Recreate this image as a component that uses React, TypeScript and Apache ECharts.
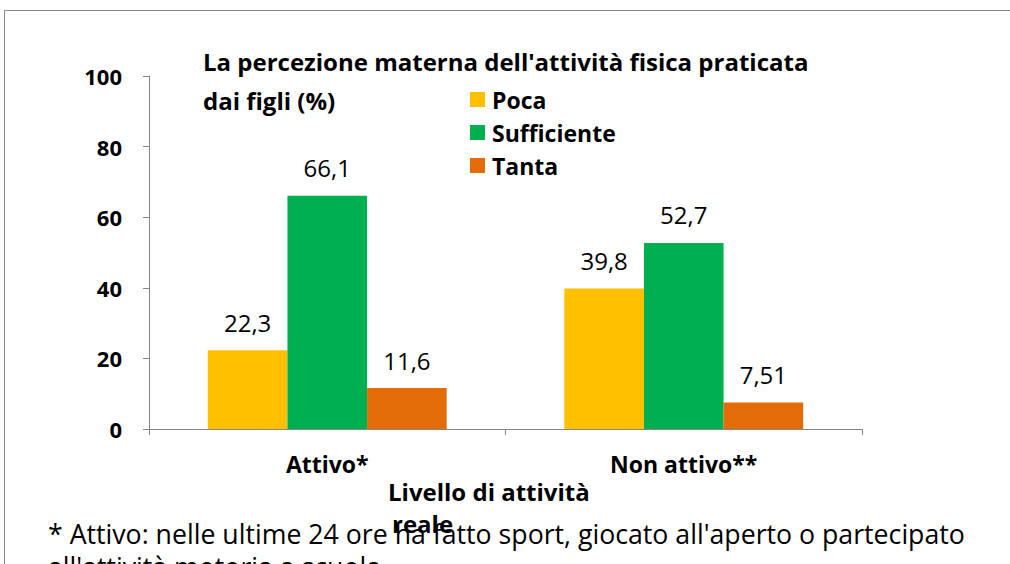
import React, { useEffect, useRef } from "react";
import * as echarts from "echarts";

const categories = ["Attivo*", "Non attivo**"];
const seriesNames = ["Poca", "Sufficiente", "Tanta"];
const poca = [22.3, 39.8];
const sufficiente = [66.1, 52.7];
const tanta = [11.6, 7.51];
const colors = ["#FFC000", "#00B050", "#E36C09"];
const yTicks = [0, 20, 40, 60, 80, 100];

const FONT = "'Open Sans'";

export default function App() {
  const ref = useRef<HTMLDivElement>(null);
  useEffect(() => {
    document.body.style.margin = "0";
    const chart = echarts.init(ref.current!, null, { renderer: "svg" });
    const values = [poca, sufficiente, tanta];
    chart.setOption({
      animation: false,
      backgroundColor: "#ffffff",
      textStyle: { fontFamily: FONT },
      grid: { left: 149, right: 148, top: 76, bottom: 135, containLabel: false },
      legend: {
        orient: "vertical",
        left: 465,
        top: 83,
        itemWidth: 15,
        itemHeight: 15,
        itemGap: 10,
        icon: "rect",
        data: seriesNames,
        textStyle: { fontFamily: FONT, fontWeight: "bold", fontSize: 23, color: "#000", padding: [0, 0, 0, 2] },
      },
      xAxis: {
        type: "category",
        data: categories,
        axisLine: { lineStyle: { color: "#868686", width: 1 } },
        axisTick: { show: true, length: 6, lineStyle: { color: "#868686" } },
        axisLabel: { fontFamily: FONT, fontWeight: "bold", fontSize: 23, color: "#000", margin: 23 },
      },
      yAxis: {
        type: "value",
        min: yTicks[0],
        max: yTicks[yTicks.length - 1],
        interval: 20,
        axisLine: { show: true, lineStyle: { color: "#868686", width: 1 } },
        axisTick: { show: true, length: 6, lineStyle: { color: "#868686" } },
        splitLine: { show: false },
        axisLabel: { fontFamily: FONT, fontWeight: "bold", fontSize: 22, color: "#000", margin: 27 },
      },
      series: seriesNames.map((name, i) => ({
        name,
        type: "bar",
        data: values[i],
        barGap: "0%",
        barCategoryGap: "33%",
        itemStyle: { color: colors[i] },
        label: {
          show: true,
          position: "top",
          distance: 16,
          fontFamily: FONT,
          fontSize: 24,
          color: "#000",
          formatter: (p: any) => String(p.value).replace(".", ","),
        },
      })),
      graphic: [
        {
          type: "rect",
          shape: { x: 4.5, y: 10.5, width: 1100, height: 700 },
          style: { fill: "none", stroke: "#868686", lineWidth: 1 },
          silent: true,
        },
        {
          type: "text",
          x: 203,
          y: 61,
          style: {
            text: "La percezione materna dell'attività fisica praticata",
            font: `bold 24px ${FONT}`,
            fill: "#000",
            verticalAlign: "middle",
          },
        },
        {
          type: "text",
          x: 203,
          y: 100,
          style: {
            text: "dai figli (%)",
            font: `bold 24px ${FONT}`,
            fill: "#000",
            verticalAlign: "middle",
          },
        },
        {
          type: "text",
          x: 388,
          y: 491,
          style: {
            text: "Livello di attività",
            font: `bold 24px ${FONT}`,
            fill: "#000",
            verticalAlign: "middle",
          },
        },
        {
          type: "text",
          x: 392,
          y: 523,
          style: {
            text: "reale",
            font: `bold 24px ${FONT}`,
            fill: "#000",
            verticalAlign: "middle",
          },
        },
        {
          type: "text",
          x: 48,
          y: 533,
          style: {
            text: "* Attivo: nelle ultime 24 ore ha fatto sport, giocato all'aperto o partecipato",
            font: `26.7px ${FONT}`,
            fill: "#000",
            verticalAlign: "middle",
          },
        },
        {
          type: "text",
          x: 48,
          y: 566,
          style: {
            text: "all'attività motoria a scuola",
            font: `26.7px ${FONT}`,
            fill: "#000",
            verticalAlign: "middle",
          },
        },
      ],
    });
    return () => chart.dispose();
  }, []);
  return <div ref={ref} style={{ position: "fixed", left: 0, top: 0, width: 1010, height: 564 }} />;
}
